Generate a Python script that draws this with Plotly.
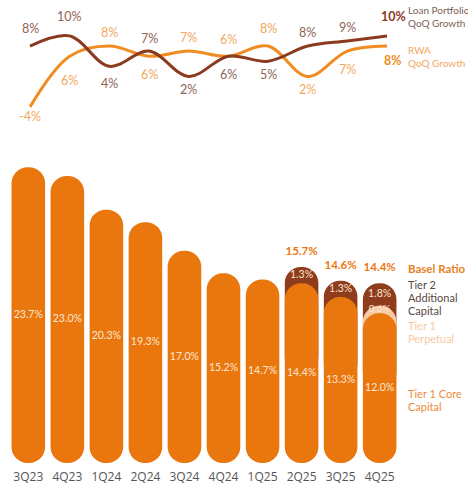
import plotly.graph_objects as go

# ---------------- data ----------------
quarters = ["3Q23", "4Q23", "1Q24", "2Q24", "3Q24", "4Q24", "1Q25", "2Q25", "3Q25", "4Q25"]
loan_growth = [8, 10, 4, 7, 2, 6, 5, 8, 9, 10]
rwa_growth = [-4, 6, 8, 6, 7, 6, 8, 2, 7, 8]
tier1_core = [23.7, 23.0, 20.3, 19.3, 17.0, 15.2, 14.7, 14.4, 13.3, 12.0]
tier1_perp = [0, 0, 0, 0, 0, 0, 0, 0, 0, 0.6]
tier2 = [0, 0, 0, 0, 0, 0, 0, 1.3, 1.3, 1.8]
basel_total = [23.7, 23.0, 20.3, 19.3, 17.0, 15.2, 14.7, 15.7, 14.6, 14.4]

# label offsets (pixels, + is up) for the growth labels
loan_shift = [18, 19, -17, 13, -13, -18, -13, 14, 13, 19]
rwa_shift = [-10, -24, 14, -18, 14, 17, 18, -13, -18, -14]

# ---------------- style ----------------
W, H = 468, 489
MB = 21
PH = H - MB  # plot area height
C_ORANGE = "#EA760E"
C_DARK = "#8E3C1B"
C_PEACH = "#F7C9A0"
C_LOAN = "#8B3A1E"
C_RWA = "#F08C22"
C_LOAN_TXT = "#8F6356"
C_RWA_TXT = "#F2A75E"
C_INNER = "#FDE6D2"
FONT = "Lato"

# bar axis geometry: value 0 at pixel 463, 12.48 px per unit
BAR_ZERO_PX = 463
BAR_PPU = 12.48
bar_dom_top = 0.665
top_px = PH * (1 - bar_dom_top)
y_range = [-(PH - BAR_ZERO_PX) / BAR_PPU, (BAR_ZERO_PX - top_px) / BAR_PPU]

# line axis geometry: value 0 at pixel 86.6, 5.07 px per unit
LINE_ZERO_PX = 86.6
LINE_PPU = 5.07
line_dom_bot = 0.70
bot_px = PH * (1 - line_dom_bot)
y2_range = [-(bot_px - LINE_ZERO_PX) / LINE_PPU, LINE_ZERO_PX / LINE_PPU]

# x geometry
x_range = [-28.3 / 39.04, (W - 28.3) / 39.04]
x2_range = [-30 / 39.67, (W - 30) / 39.67]

fig = go.Figure()

n = len(quarters)
mid = [c * 0.5 for c in tier1_core]
tier1_total = [c + p for c, p in zip(tier1_core, tier1_perp)]

BW = 0.86
common = dict(x=quarters, width=BW, xaxis="x", yaxis="y", hoverinfo="skip",
              showlegend=False)

# dark (total) pill (hidden lower end inside the core pill)
fig.add_trace(go.Bar(base=mid,
                     y=[(t - m) if t2 > 0 else None for t, m, t2 in zip(basel_total, mid, tier2)],
                     marker=dict(color=C_DARK, cornerradius="50%", line_width=0), **common))
# peach (tier1 total) pill
fig.add_trace(go.Bar(base=mid,
                     y=[(t - m) if p > 0 else None for t, m, p in zip(tier1_total, mid, tier1_perp)],
                     marker=dict(color=C_PEACH, cornerradius="50%", line_width=0), **common))
# orange core pill (explicit base -> both ends rounded)
fig.add_trace(go.Bar(base=[0] * n, y=tier1_core,
                     marker=dict(color=C_ORANGE, cornerradius="50%", line_width=0), **common))

# inner labels: core
fig.add_trace(go.Scatter(x=quarters, y=[c / 2 for c in tier1_core], mode="text",
                         text=[f"{c:.1f}%" for c in tier1_core],
                         textfont=dict(family=FONT, size=10.5, color=C_INNER),
                         xaxis="x", yaxis="y", hoverinfo="skip", showlegend=False,
                         cliponaxis=False))
# tier2 labels
fig.add_trace(go.Scatter(x=quarters,
                         y=[(t1 + t2 / 2) if t2 > 0 else None for t1, t2 in zip(tier1_total, tier2)],
                         mode="text",
                         text=[f"{t2:.1f}%" if t2 > 0 else "" for t2 in tier2],
                         textfont=dict(family=FONT, size=10.5, color=C_INNER),
                         xaxis="x", yaxis="y", hoverinfo="skip", showlegend=False,
                         cliponaxis=False))
# perpetual labels
fig.add_trace(go.Scatter(x=quarters,
                         y=[(c + p / 2) if p > 0 else None for c, p in zip(tier1_core, tier1_perp)],
                         mode="text",
                         text=[f"{p:.1f}%" if p > 0 else "" for p in tier1_perp],
                         textfont=dict(family=FONT, size=10, color=C_INNER),
                         xaxis="x", yaxis="y", hoverinfo="skip", showlegend=False,
                         cliponaxis=False))
# total labels (only stacked bars)
fig.add_trace(go.Scatter(x=quarters,
                         y=[(t + 1.2) if t2 > 0 else None for t, t2 in zip(basel_total, tier2)],
                         mode="text",
                         text=[f"<b>{t:.1f}%</b>" if t2 > 0 else "" for t, t2 in zip(basel_total, tier2)],
                         textfont=dict(family=FONT, size=11.5, color=C_ORANGE),
                         xaxis="x", yaxis="y", hoverinfo="skip", showlegend=False,
                         cliponaxis=False))

# growth lines
fig.add_trace(go.Scatter(x=list(range(n)), y=rwa_growth, mode="lines",
                         line=dict(color=C_RWA, width=3, shape="spline", smoothing=1.0),
                         xaxis="x2", yaxis="y2", hoverinfo="skip", showlegend=False,
                         cliponaxis=False))
fig.add_trace(go.Scatter(x=list(range(n)), y=loan_growth, mode="lines",
                         line=dict(color=C_LOAN, width=3, shape="spline", smoothing=1.0),
                         xaxis="x2", yaxis="y2", hoverinfo="skip", showlegend=False,
                         cliponaxis=False))

annotations = []
for i, (v, s) in enumerate(zip(loan_growth, loan_shift)):
    last = i == n - 1
    annotations.append(dict(
        x=i, y=v, xref="x2", yref="y2", yshift=s, xshift=6 if last else 0,
        text=f"<b>{v}%</b>" if last else f"{v}%", showarrow=False,
        font=dict(family=FONT, size=12.5, color=C_LOAN if last else C_LOAN_TXT)))
for i, (v, s) in enumerate(zip(rwa_growth, rwa_shift)):
    last = i == n - 1
    annotations.append(dict(
        x=i, y=v, xref="x2", yref="y2", yshift=s, xshift=6 if last else 0,
        text=f"<b>{v}%</b>" if last else f"{v}%", showarrow=False,
        font=dict(family=FONT, size=12.5, color=C_RWA if last else C_RWA_TXT)))

# right-side legend text (pixel rows)
legend_rows = [
    ("Loan Portfolio", 10, "#7D6158", False, 10),
    ("QoQ Growth", 23, "#7D6158", False, 10),
    ("RWA", 50, C_RWA_TXT, False, 10),
    ("QoQ Growth", 63, C_RWA_TXT, False, 10),
    ("Basel Ratio", 268, "#E8821E", True, 11.5),
    ("Tier 2", 284, "#5A4842", False, 11),
    ("Additional", 297, "#5A4842", False, 11),
    ("Capital", 310, "#5A4842", False, 11),
    ("Tier 1", 325, C_PEACH, False, 11),
    ("Perpetual", 338, C_PEACH, False, 11),
    ("Tier 1 Core", 393, "#EC8B3C", False, 11),
    ("Capital", 406, "#EC8B3C", False, 11),
]
for txt, ypx, col, bold, fs in legend_rows:
    annotations.append(dict(
        x=406 / W, y=1 - ypx / PH, xref="paper", yref="paper", xanchor="left",
        yanchor="middle", showarrow=False,
        text=f"<b>{txt}</b>" if bold else txt,
        font=dict(family=FONT, size=fs, color=col)))

fig.update_layout(
    width=W, height=H,
    margin=dict(l=0, r=0, t=0, b=MB),
    paper_bgcolor="white", plot_bgcolor="white",
    barmode="overlay",
    showlegend=False,
    annotations=annotations,
    xaxis=dict(type="category", range=x_range, showgrid=False, zeroline=False,
               showline=False, ticks="", fixedrange=True,
               tickfont=dict(family="Open Sans", size=12, color="#555555")),
    yaxis=dict(domain=[0, bar_dom_top], range=y_range, visible=False, fixedrange=True),
    xaxis2=dict(range=x2_range, visible=False, anchor="y2", fixedrange=True),
    yaxis2=dict(domain=[line_dom_bot, 1], range=y2_range, visible=False,
                anchor="x2", fixedrange=True),
)

fig.write_html("out.html")
